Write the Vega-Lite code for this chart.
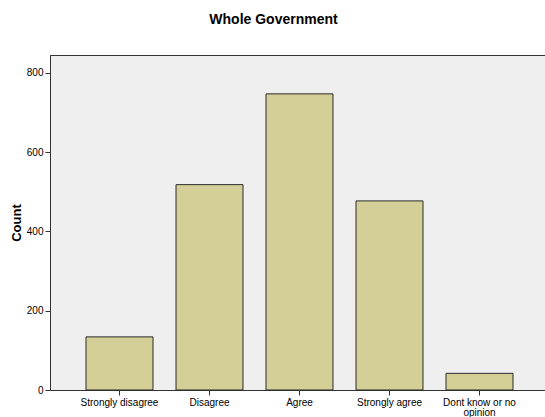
{
  "$schema": "https://vega.github.io/schema/vega-lite/v6.json",
  "autosize": "none",
  "width": 499,
  "height": 335,
  "padding": {"left": 50, "top": 55, "right": 0, "bottom": 27},
  "background": "white",
  "title": {
    "text": "Whole Government",
    "font": "Liberation Sans",
    "fontSize": 14,
    "fontWeight": "bold",
    "color": "#000000",
    "anchor": "middle",
    "dx": -26,
    "offset": 28
  },
  "data": {
    "values": [
      {"response": "Strongly disagree", "count": 134},
      {"response": "Disagree", "count": 518},
      {"response": "Agree", "count": 747},
      {"response": "Strongly agree", "count": 477},
      {"response": "Dont know or no opinion", "count": 42}
    ]
  },
  "mark": {"type": "bar", "fill": "#d4cf97", "stroke": "#2b2b2b", "strokeWidth": 1},
  "encoding": {
    "x": {
      "field": "response",
      "type": "nominal",
      "sort": null,
      "scale": {"paddingInner": 0.2556, "paddingOuter": 0.4},
      "axis": {
        "title": null,
        "labelAngle": 0,
        "labelFont": "Liberation Sans",
        "labelFontSize": 10,
        "labelColor": "#000000",
        "labelPadding": 2,
        "labelLineHeight": 10,
        "tickSize": 5,
        "tickColor": "#333333",
        "domainColor": "#333333",
        "labelExpr": "datum.label == 'Dont know or no opinion' ? ['Dont know or no', 'opinion'] : datum.label"
      }
    },
    "y": {
      "field": "count",
      "type": "quantitative",
      "scale": {"domain": [0, 845], "nice": false},
      "axis": {
        "title": "Count",
        "titleFont": "Liberation Sans",
        "titleFontSize": 13,
        "titleFontWeight": "bold",
        "titleColor": "#000000",
        "titlePadding": 3,
        "values": [0, 200, 400, 600, 800],
        "grid": false,
        "labelFont": "Liberation Sans",
        "labelFontSize": 10,
        "labelColor": "#000000",
        "labelPadding": 2,
        "tickSize": 5,
        "tickColor": "#333333",
        "domainColor": "#333333"
      }
    }
  },
  "config": {
    "view": {"fill": "#efefef", "stroke": "#333333", "strokeWidth": 1}
  }
}
